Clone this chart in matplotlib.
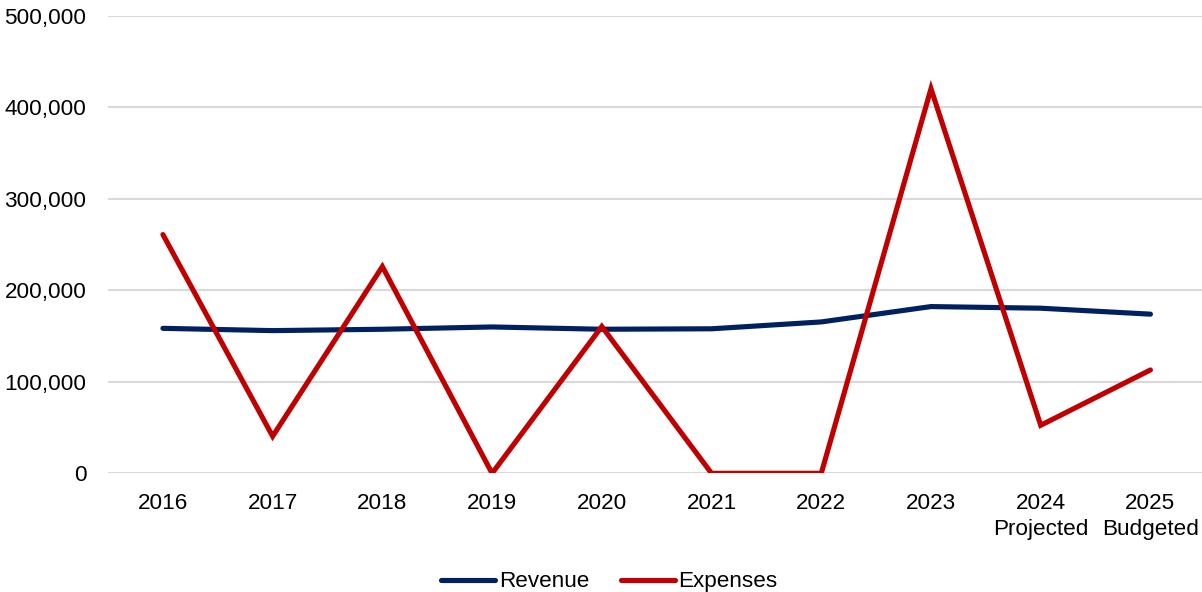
import matplotlib.pyplot as plt
from matplotlib.ticker import FuncFormatter

years = ["2016", "2017", "2018", "2019", "2020", "2021", "2022", "2023",
         "2024\nProjected", "2025\nBudgeted"]
revenue = [158500, 156000, 157500, 160000, 157500, 158000, 165500, 182300, 180500, 174000]
expenses = [261000, 40500, 226000, 0, 160500, 0, 0, 420500, 52500, 113000]

plt.rcParams["font.family"] = ["Liberation Sans", "DejaVu Sans"]

fig = plt.figure(figsize=(12.02, 5.92), dpi=100)
ax = fig.add_axes([0.0899, 0.2005, 0.9101, 0.7725])

x = range(len(years))
ax.plot(x, revenue, color="#002060", lw=3.7, solid_capstyle="round",
        solid_joinstyle="round", label="Revenue")
ax.plot(x, expenses, color="#C00000", lw=3.7, solid_capstyle="round",
        solid_joinstyle="miter", label="Expenses")

ax.set_xlim(-0.5, 9.47)
ax.set_ylim(0, 500000)
ax.set_yticks(range(0, 500001, 100000))
ax.yaxis.set_major_formatter(FuncFormatter(lambda v, _: f"{int(v):,}"))
ax.set_xticks(list(x))
ax.set_xticklabels(years)

ax.grid(axis="y", color="#D9D9D9", lw=1.5)
ax.set_axisbelow(True)
for s in ax.spines.values():
    s.set_visible(False)
ax.tick_params(axis="both", length=0, labelsize=16.2, colors="black")
ax.tick_params(axis="y", pad=15.5)
ax.tick_params(axis="x", pad=14)
for lbl in ax.get_xticklabels():
    lbl.set_linespacing(1.35)

fig.legend(loc="center", bbox_to_anchor=(0.507, 0.017), ncol=2, frameon=False,
           fontsize=16.2, handlelength=2.4, handletextpad=0.15, columnspacing=1.4)

fig.savefig("out.png", dpi=100)
